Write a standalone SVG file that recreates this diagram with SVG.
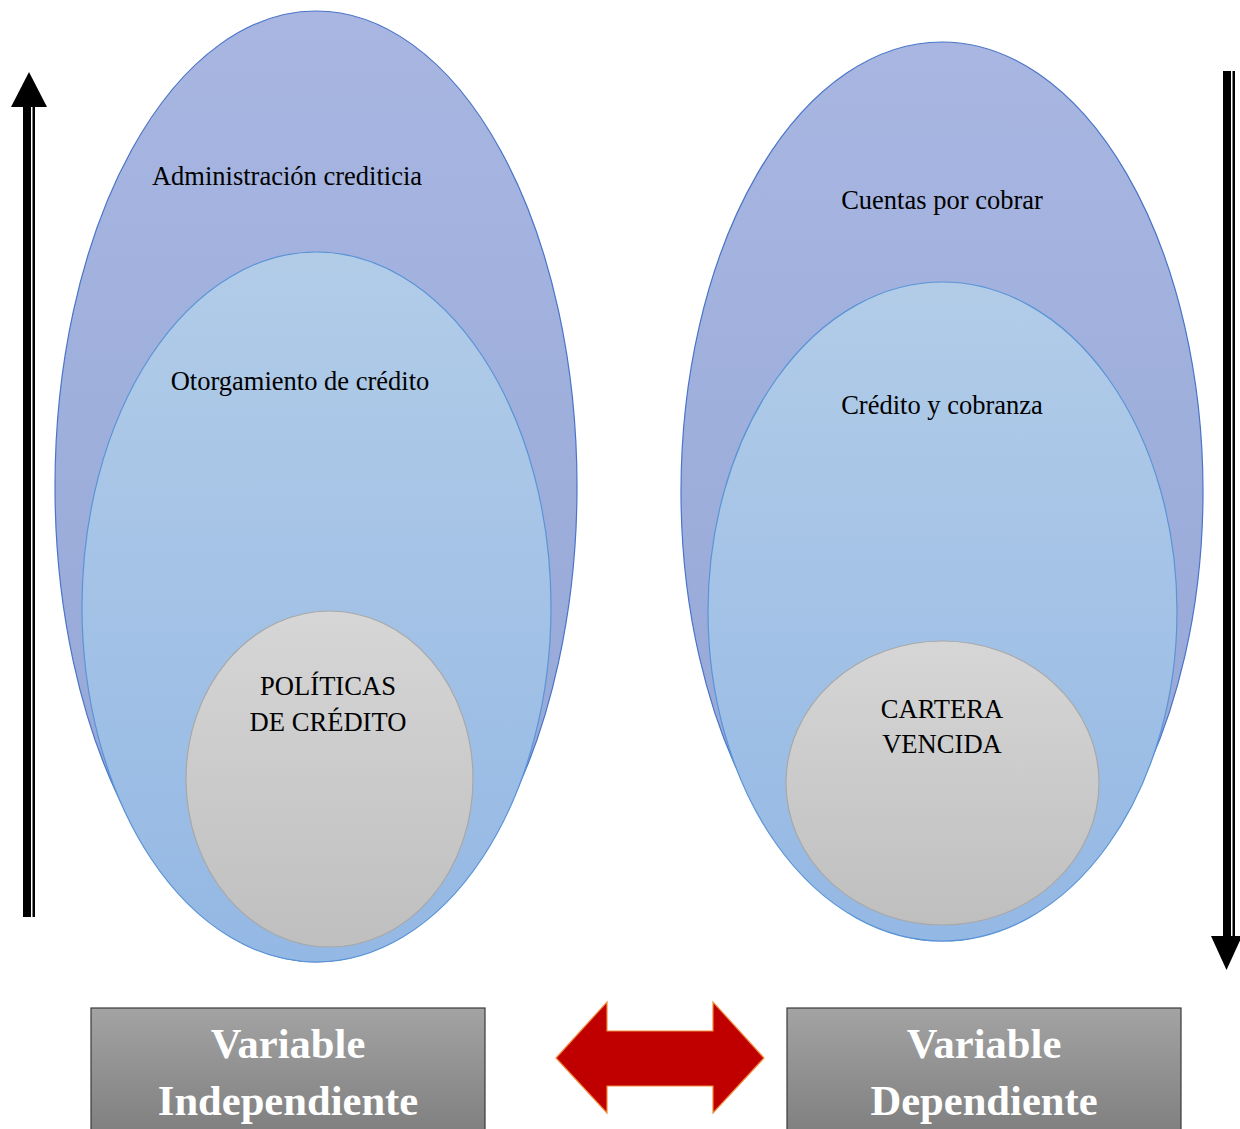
<svg xmlns="http://www.w3.org/2000/svg" width="1240" height="1129" viewBox="0 0 1240 1129">
  <defs>
    <linearGradient id="gOuter" x1="0" y1="0" x2="0" y2="1">
      <stop offset="0" stop-color="#A8B6E1"/>
      <stop offset="1" stop-color="#93A6D6"/>
    </linearGradient>
    <linearGradient id="gMid" x1="0" y1="0" x2="0" y2="1">
      <stop offset="0" stop-color="#B2CCE8"/>
      <stop offset="1" stop-color="#94B8E4"/>
    </linearGradient>
    <linearGradient id="gInner" x1="0" y1="0" x2="0" y2="1">
      <stop offset="0" stop-color="#D6D6D6"/>
      <stop offset="1" stop-color="#BFBFBF"/>
    </linearGradient>
    <linearGradient id="gBox" x1="0" y1="0" x2="0" y2="1">
      <stop offset="0" stop-color="#A3A3A3"/>
      <stop offset="1" stop-color="#7E7E7E"/>
    </linearGradient>
  </defs>
  <style>
    .outer { fill: url(#gOuter); stroke: #4A74C8; stroke-width: 1.2; }
    .mid { fill: url(#gMid); stroke: #5A94D6; stroke-width: 1.2; }
    .inner { fill: url(#gInner); stroke: #A8A8A8; stroke-width: 1.2; }
    .lbl { font-family: "Liberation Serif", "Times New Roman", serif; font-size: 26.5px; fill: #000; text-anchor: middle; }
    .cap { font-family: "Liberation Serif", "Times New Roman", serif; font-size: 26.6px; fill: #000; text-anchor: middle; }
    .box { fill: url(#gBox); stroke: #3A3A3A; stroke-width: 1.2; }
    .boxtxt { font-family: "Liberation Serif", "Times New Roman", serif; font-size: 42.6px; font-weight: bold; fill: #FFFFFF; text-anchor: middle; }
    .bar { fill: #000; }
  </style>

  <!-- independent variable nest -->
  <g id="administracion">
    <ellipse class="outer" cx="316" cy="486.5" rx="261" ry="475.5"/>
    <text class="lbl" x="287" y="185">Administración crediticia</text>
  </g>
  <g id="otorgamiento">
    <ellipse class="mid" cx="316.5" cy="607" rx="234.5" ry="355"/>
    <text class="lbl" x="300" y="390">Otorgamiento de crédito</text>
  </g>
  <g id="politicas">
    <ellipse class="inner" cx="329.5" cy="779" rx="143.5" ry="168"/>
    <text class="cap" x="328" y="695">POLÍTICAS</text>
    <text class="cap" x="328" y="731">DE CRÉDITO</text>
  </g>

  <!-- dependent variable nest -->
  <g id="cuentas">
    <ellipse class="outer" cx="942" cy="491.5" rx="261" ry="449.5"/>
    <text class="lbl" x="942" y="209">Cuentas por cobrar</text>
  </g>
  <g id="credito-cobranza">
    <ellipse class="mid" cx="942.5" cy="611.5" rx="234.5" ry="329.5"/>
    <text class="lbl" x="942" y="414">Crédito y cobranza</text>
  </g>
  <g id="cartera">
    <ellipse class="inner" cx="942.5" cy="783" rx="156.5" ry="142"/>
    <text class="cap" x="942" y="718">CARTERA</text>
    <text class="cap" x="942" y="753">VENCIDA</text>
  </g>

  <!-- variable boxes -->
  <g id="variable-independiente">
    <rect class="box" x="91" y="1008" width="394" height="130"/>
    <text class="boxtxt" x="288" y="1058">Variable</text>
    <text class="boxtxt" x="288" y="1115">Independiente</text>
  </g>
  <g id="variable-dependiente">
    <rect class="box" x="787" y="1008" width="394" height="130"/>
    <text class="boxtxt" x="984" y="1058">Variable</text>
    <text class="boxtxt" x="984" y="1115">Dependiente</text>
  </g>

  <!-- connectors -->
  <g id="connectors">
    <!-- upward arrow, left -->
    <rect class="bar" x="23" y="104" width="8" height="813"/>
    <rect class="bar" x="32.5" y="104" width="2.5" height="813"/>
    <polygon class="bar" points="29,72 47,107 11,107"/>
    <!-- downward arrow, right -->
    <rect class="bar" x="1223" y="71" width="8" height="868"/>
    <rect class="bar" x="1232.5" y="71" width="2.5" height="868"/>
    <polygon class="bar" points="1211,936 1242,936 1226.5,970"/>
    <!-- two-way arrow between variables -->
    <polygon points="556,1058 607,1002 607,1031 713,1031 713,1002 764,1058 713,1113 713,1086 607,1086 607,1113" fill="#C00000" stroke="#F08A3C" stroke-width="1.2" stroke-linejoin="miter"/>
  </g>
</svg>
